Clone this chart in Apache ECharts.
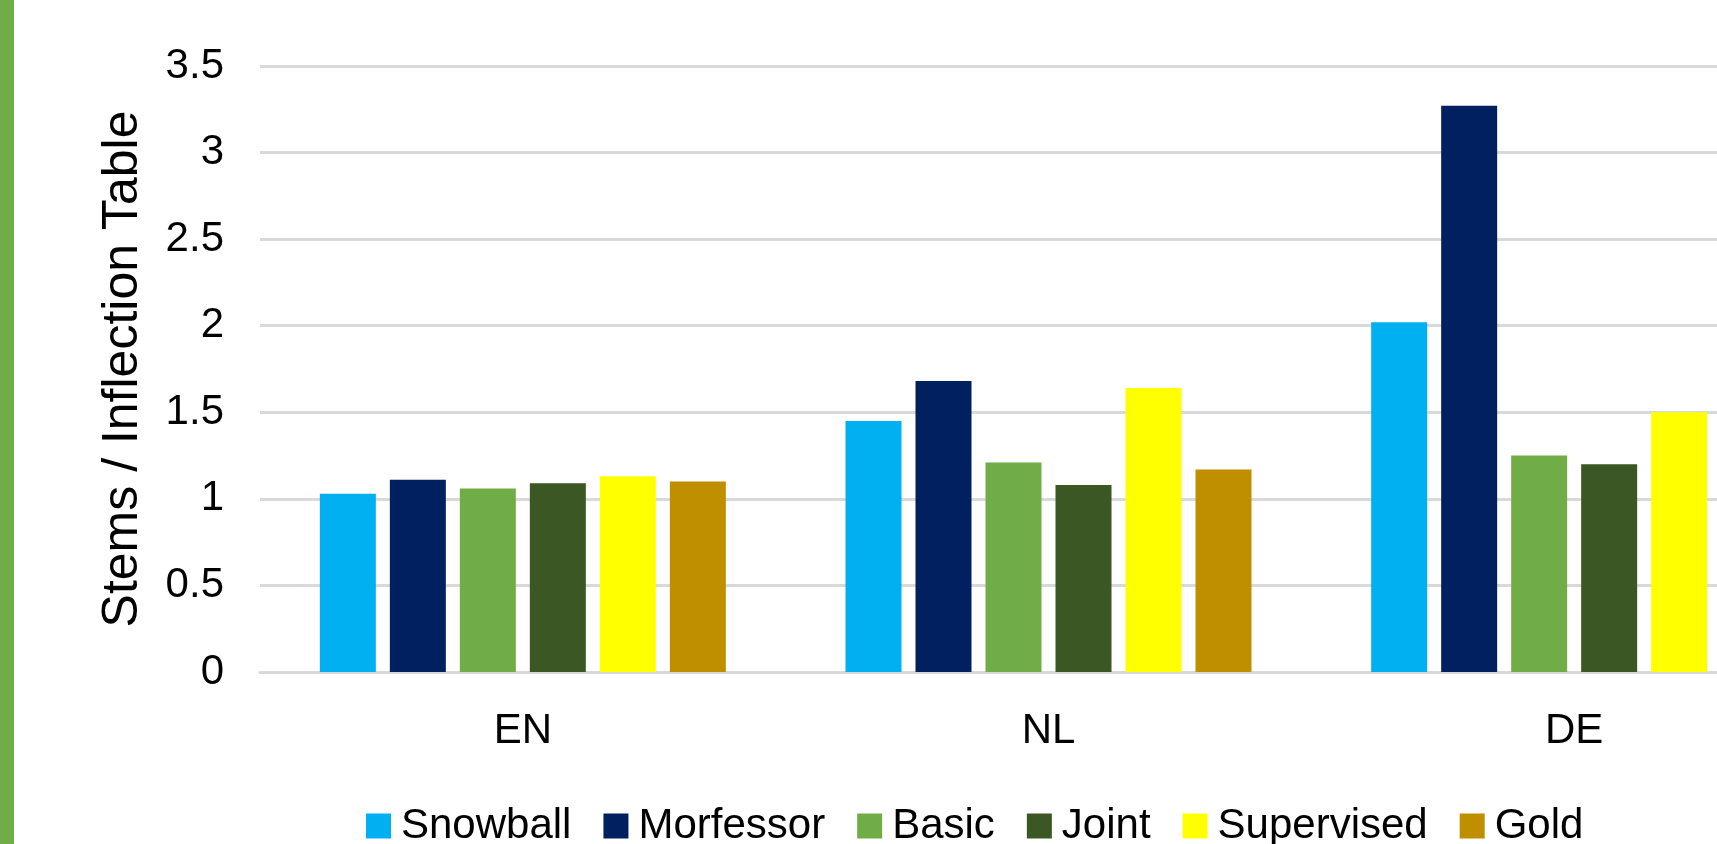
<!DOCTYPE html>
<html>
<head>
<meta charset="utf-8">
<script src="https://cdn.jsdelivr.net/npm/echarts@6/dist/echarts.min.js"></script>
<style>
  html, body { margin: 0; padding: 0; background: #ffffff; overflow: hidden; }
  #chart { width: 1840px; height: 844px; }
</style>
</head>
<body>
<div id="chart"></div>
<script>
// Languages on the category axis
const languages = ['EN', 'NL', 'DE'];

// Average number of stems per inflection table, per method
const snowball   = [1.03, 1.45, 2.02];
const morfessor  = [1.11, 1.68, 3.27];
const basic      = [1.06, 1.21, 1.25];
const joint      = [1.09, 1.08, 1.20];
const supervised = [1.13, 1.64, 1.50];
const gold       = [1.10, 1.17, null];

const seriesNames = ['Snowball', 'Morfessor', 'Basic', 'Joint', 'Supervised', 'Gold'];
const seriesData = [snowball, morfessor, basic, joint, supervised, gold];
const seriesColors = ['#00B0F0', '#002060', '#70AD47', '#3A5724', '#FFFF00', '#BF8F00'];

// Value axis ticks
const yMin = 0;
const yMax = 3.5;
const yStep = 0.5;

const FONT = "'Liberation Sans', Arial, sans-serif";

const chart = echarts.init(document.getElementById('chart'));

chart.setOption({
  animation: false,
  backgroundColor: '#ffffff',
  textStyle: { fontFamily: FONT, color: '#000000' },
  graphic: [
    { type: 'rect', left: 0, top: 0, shape: { width: 14, height: 844 }, style: { fill: '#70AD47' }, z: 10 }
  ],
  grid: { left: 260, top: 66, width: 1577, height: 606, containLabel: false },
  legend: {
    left: 366,
    top: 805,
    padding: 0,
    itemWidth: 25,
    itemHeight: 25,
    itemGap: 32,
    icon: 'rect',
    textStyle: { fontFamily: FONT, fontSize: 42, color: '#000000', lineHeight: 42, padding: [0, 0, 0, 5] },
    data: seriesNames
  },
  xAxis: {
    type: 'category',
    data: languages,
    axisTick: { show: false },
    axisLine: { lineStyle: { color: '#D9D9D9', width: 3 } },
    axisLabel: { fontFamily: FONT, fontSize: 42, color: '#000000', margin: 38 }
  },
  yAxis: {
    type: 'value',
    min: yMin,
    max: yMax,
    interval: yStep,
    name: 'Stems / Inflection Table',
    nameLocation: 'middle',
    nameGap: 112,
    nameTextStyle: { fontFamily: FONT, fontSize: 50, color: '#000000' },
    axisLine: { show: false },
    axisTick: { show: false },
    splitLine: { lineStyle: { color: '#D9D9D9', width: 3 } },
    axisLabel: { fontFamily: FONT, fontSize: 42, color: '#000000', margin: 36 }
  },
  series: seriesNames.map((name, i) => ({
    name: name,
    type: 'bar',
    data: seriesData[i],
    barWidth: 56,
    barGap: '25%',
    itemStyle: { color: seriesColors[i] }
  }))
});
</script>
</body>
</html>
